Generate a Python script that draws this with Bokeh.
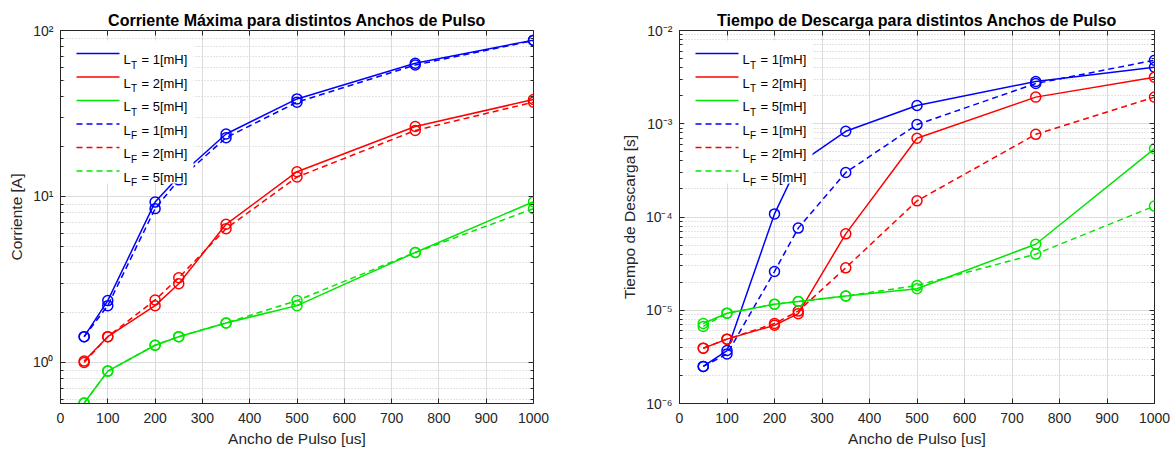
import numpy as np
from bokeh.plotting import figure
from bokeh.layouts import row
from bokeh.models import (FixedTicker, CustomJSTickFormatter, LogAxis, LinearAxis,
                          BoxAnnotation, Label, Arrow, Range1d)
from bokeh.embed import file_html
from bokeh.resources import INLINE

# ---------------- data ----------------
ancho = [50, 100, 200, 250, 350, 500, 750, 1000]   # Ancho de Pulso [us]

# Corriente Máxima [A]
corr_LT1 = [1.43, 2.36, 9.25, 13.2, 23.8, 38.7, 63.5, 87.5]
corr_LT2 = [1.02, 1.43, 2.20, 2.98, 6.80, 14.1, 26.4, 38.4]
corr_LT5 = [0.57, 0.887, 1.27, 1.43, 1.73, 2.20, 4.60, 9.30]
corr_LF1 = [1.43, 2.20, 8.45, 12.6, 22.6, 37.0, 62.0, 87.0]
corr_LF2 = [1.00, 1.43, 2.38, 3.24, 6.40, 13.1, 25.0, 37.0]
corr_LF5 = [0.57, 0.887, 1.27, 1.43, 1.73, 2.36, 4.60, 8.45]

# Tiempo de Descarga [s]
tdes_LT1 = [2.5e-6, 3.7e-6, 1.08e-4, 3.7e-4, 8.3e-4, 1.57e-3, 2.84e-3, 4.04e-3]
tdes_LT2 = [3.92e-6, 4.9e-6, 6.9e-6, 9.2e-6, 6.6e-5, 7.0e-4, 1.93e-3, 3.16e-3]
tdes_LT5 = [7.2e-6, 9.3e-6, 1.16e-5, 1.24e-5, 1.42e-5, 1.70e-5, 5.1e-5, 5.4e-4]
tdes_LF1 = [2.5e-6, 3.4e-6, 2.6e-5, 7.6e-5, 3.0e-4, 9.8e-4, 2.7e-3, 4.8e-3]
tdes_LF2 = [3.92e-6, 4.9e-6, 7.2e-6, 9.8e-6, 2.85e-5, 1.49e-4, 7.7e-4, 1.93e-3]
tdes_LF5 = [6.7e-6, 9.3e-6, 1.16e-5, 1.24e-5, 1.42e-5, 1.84e-5, 4.0e-5, 1.31e-4]

leg_sub = ["T", "T", "T", "F", "F", "F"]
leg_val = ["1", "2", "5", "1", "2", "5"]
colors = ["#0000ff", "#ff0000", "#00e600", "#0000ff", "#ff0000", "#00e600"]
dashes = ["solid", "solid", "solid", "6 4", "6 4", "6 4"]

x_ticks = list(range(0, 1001, 100))

FONT = "Liberation Sans"
AX = "#262626"

sup_js = """
const s = {"-":"\u207b","0":"\u2070","1":"\u00b9","2":"\u00b2","3":"\u00b3","4":"\u2074",
           "5":"\u2075","6":"\u2076","7":"\u2077","8":"\u2078","9":"\u2079"};
const e = Math.round(Math.log10(tick));
return "10" + String(e).split("").map(c => s[c]).join("");
"""


def decade_ticks(lo_exp, hi_exp):
    majors = [10.0 ** e for e in range(lo_exp, hi_exp + 1)]
    minors = [m * 10.0 ** e for e in range(lo_exp - 1, hi_exp) for m in range(2, 10)]
    return majors, minors


def make_fig(title, ylabel, yr, exps, series, bl, br, fw):
    majors, minors = decade_ticks(*exps)
    p = figure(frame_width=fw, frame_height=373, x_range=Range1d(0, 1000),
               y_range=Range1d(*yr), y_axis_type="log", output_backend="svg",
               toolbar_location=None, min_border_left=bl, min_border_right=br,
               min_border_top=30, min_border_bottom=46, title=title)
    p.title.text_font = FONT
    p.title.text_font_size = "16px"
    p.title.text_font_style = "bold"
    p.title.align = "center"
    p.title.text_color = "black"
    p.title.standoff = 4
    p.outline_line_color = AX
    p.outline_line_width = 1
    p.outline_line_alpha = 1

    xa = p.xaxis[0]
    xa.ticker = FixedTicker(ticks=x_ticks)
    xa.axis_label = "Ancho de Pulso [us]"
    ya = p.yaxis[0]
    ya.ticker = FixedTicker(ticks=majors, minor_ticks=minors)
    ya.formatter = CustomJSTickFormatter(code=sup_js)
    ya.axis_label = ylabel
    for a in (xa, ya):
        a.axis_line_color = AX
        a.major_tick_in = 5
        a.major_tick_out = 0
        a.minor_tick_in = 3
        a.minor_tick_out = 0
        a.major_tick_line_color = AX
        a.minor_tick_line_color = AX
        a.major_label_text_font = FONT
        a.major_label_text_font_size = "14px"
        a.major_label_text_color = AX
        a.axis_label_text_font = FONT
        a.axis_label_text_font_size = "15.5px"
        a.axis_label_text_font_style = "normal"
        a.axis_label_text_color = AX
    xa.major_label_standoff = 9
    xa.axis_label_standoff = 4
    ya.major_label_standoff = 7
    ya.axis_label_standoff = 5

    # box ticks (top / right), no labels
    blank = CustomJSTickFormatter(code="return '';")
    ra = LogAxis(ticker=FixedTicker(ticks=majors, minor_ticks=minors), formatter=blank,
                 major_label_text_font_size="1px", major_label_standoff=0,
                 major_tick_in=5, major_tick_out=0, minor_tick_in=3, minor_tick_out=0,
                 axis_line_color=None, major_tick_line_color=AX, minor_tick_line_color=AX)
    ta = LinearAxis(ticker=FixedTicker(ticks=x_ticks), formatter=blank,
                    major_label_text_font_size="1px", major_label_standoff=0,
                    major_tick_in=5, major_tick_out=0, minor_tick_in=0, minor_tick_out=0,
                    axis_line_color=None, major_tick_line_color=AX)
    p.add_layout(ra, "right")
    p.add_layout(ta, "above")

    p.xgrid.grid_line_color = "#dcdcdc"
    p.ygrid.grid_line_color = "#dcdcdc"
    p.ygrid.minor_grid_line_color = "#c8c8c8"
    p.ygrid.minor_grid_line_dash = "1 2"

    for ys, c, d in zip(series, colors, dashes):
        p.line(ancho, ys, line_color=c, line_width=1.5, line_dash=d)
        p.scatter(ancho, ys, marker="circle", size=10, fill_color=None,
                  line_color=c, line_width=1.5)

    # legend (custom, to keep the subscripts)
    p.add_layout(BoxAnnotation(left=5, right=133, bottom=220, top=363,
                               left_units="screen", right_units="screen",
                               bottom_units="screen", top_units="screen",
                               fill_color="white", fill_alpha=1.0, line_alpha=0))
    for i in range(6):
        yl = 373 - (23 + 23.5 * i)
        yb = yl - 6
        p.add_layout(Arrow(end=None, x_start=16, y_start=yl, x_end=59, y_end=yl,
                           start_units="screen", end_units="screen",
                           line_color=colors[i], line_width=1.5, line_dash=dashes[i]))
        p.add_layout(Label(x=63, y=yb, x_units="screen", y_units="screen", text="L",
                           text_font=FONT, text_font_size="13px",
                           text_baseline="alphabetic", text_color="black"))
        p.add_layout(Label(x=70.5, y=yb - 5.5, x_units="screen", y_units="screen",
                           text=leg_sub[i], text_font=FONT, text_font_size="10px",
                           text_baseline="alphabetic", text_color="black"))
        p.add_layout(Label(x=81, y=yb, x_units="screen", y_units="screen",
                           text="= " + leg_val[i] + "[mH]", text_font=FONT,
                           text_font_size="13px", text_baseline="alphabetic",
                           text_color="black"))
    return p


p1 = make_fig("Corriente Máxima para distintos Anchos de Pulso", "Corriente [A]",
              (0.566, 100), (0, 2),
              [corr_LT1, corr_LT2, corr_LT5, corr_LF1, corr_LF2, corr_LF5],
              60, 57, 473)
p2 = make_fig("Tiempo de Descarga para distintos Anchos de Pulso", "Tiempo de Descarga [s]",
              (1e-6, 1e-2), (-6, -2),
              [tdes_LT1, tdes_LT2, tdes_LT5, tdes_LF1, tdes_LF2, tdes_LF5],
              89, 18, 475)

p = row(p1, p2)
open("out.html", "w").write(file_html(p, INLINE))
